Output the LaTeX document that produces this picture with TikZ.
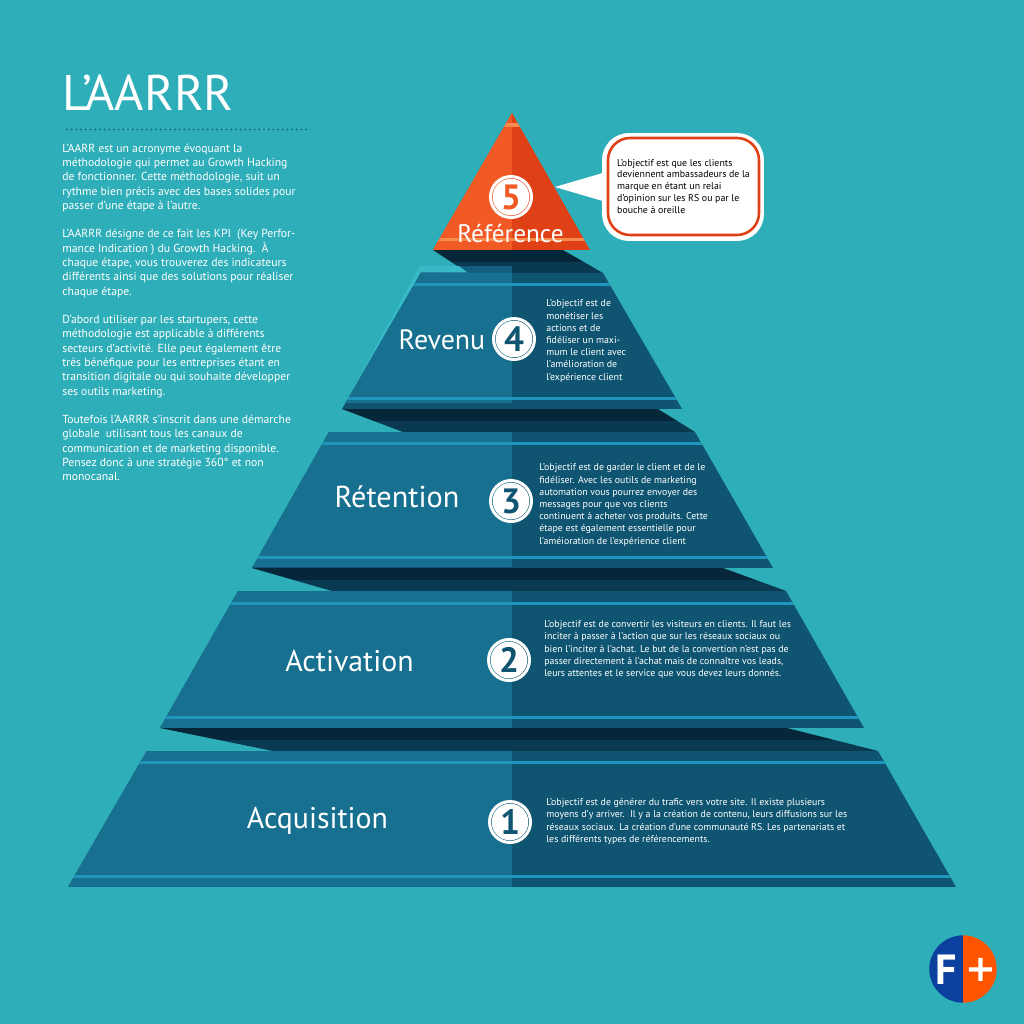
\documentclass[tikz,border=0pt]{standalone}
\usepackage{fontspec}
\setmainfont{PT Sans}
\newfontfamily\plusfont{DejaVu Sans}
\usetikzlibrary{positioning,calc}
\definecolor{bgteal}{HTML}{2EAEB8}
\definecolor{lightteal}{HTML}{38BAC8}
\definecolor{bandleft}{HTML}{17708F}
\definecolor{bandright}{HTML}{0F5571}
\definecolor{bandmid}{HTML}{135E7C}
\definecolor{stripeblue}{HTML}{2096BE}
\definecolor{shadowa}{HTML}{06263A}
\definecolor{shadowb}{HTML}{0A3A52}
\definecolor{orangeleft}{HTML}{F15A24}
\definecolor{orangeright}{HTML}{E04016}
\definecolor{orangestripe}{HTML}{F78B4B}
\definecolor{logoblue}{HTML}{0B409E}
\definecolor{logoorange}{HTML}{FF5500}
\tikzset{
	stage/.style={text=white, inner sep=0pt, font=\fontsize{#1}{20}\selectfont},
	blurb/.style={text=white, inner sep=0pt, align=left, anchor=west, font=\fontsize{5.62}{6.95}\selectfont},
	intro/.style={text=white, inner sep=0pt, align=left, anchor=north west, font=\fontsize{6.65}{8.13}\selectfont},
	badge/.style={circle, fill=white, inner sep=0pt, minimum size=0.732cm, text=bandright, font=\fontsize{20}{22}\bfseries\selectfont},
	ringline/.style={draw=white, line width=1.7pt},
}
\begin{document}
\begin{tikzpicture}[x=0.02cm, y=-0.02cm]
	\fill[bgteal] (0,0) rectangle (1024,1024);
	\useasboundingbox (0,0) rectangle (1024,1024);

	\node[text=white, inner sep=0pt, anchor=base west, font=\fontsize{28.5}{30}\selectfont] (title) at (62,111) {L’AARRR};
	\coordinate (dota) at (67,129.5);
	\coordinate (dotb) at (308,129.5);
	\draw[bandright, line width=1pt, line cap=round, dash pattern=on 0pt off 2.67pt] (dota) -- (dotb);
	\node[intro] (txtintro) at (62,143.5) {L’AARR est un acronyme évoquant la\\méthodologie qui permet au Growth Hacking\\de fonctionner. Cette méthodologie, suit un\\rythme bien précis avec des bases solides pour\\passer d’une étape à l’autre.\\[8.13pt]L’AARRR désigne de ce fait les KPI\ \ (Key Perfor-\\mance Indication ) du Growth Hacking.\ \ À\\chaque étape, vous trouverez des indicateurs\\différents ainsi que des solutions pour réaliser\\chaque étape.\\[8.13pt]D’abord utiliser par les startupers, cette\\méthodologie est applicable à différents\\secteurs d’activité. Elle peut également être\\très bénéfique pour les entreprises étant en\\transition digitale ou qui souhaite développer\\ses outils marketing.\\[8.13pt]Toutefois l’AARRR s’inscrit dans une démarche\\globale\ \ utilisant tous les canaux de\\communication et de marketing disponible.\\Pensez donc à une stratégie 360° et non\\monocanal.};

	\begin{scope}
		\clip (433,250) -- (563,250) -- (603,273) -- (468,273) -- cycle;
		\fill[shadowa] (400,250) rectangle (620,262);
		\fill[shadowb] (400,262) rectangle (620,273);
		\fill[bandmid] (400,266) rectangle (512,273);
	\end{scope}
	\begin{scope}
		\clip (342,409) -- (658,409) -- (695,432) -- (403,432) -- cycle;
		\fill[shadowa] (330,409) rectangle (700,421);
		\fill[shadowb] (330,421) rectangle (700,432);
	\end{scope}
	\begin{scope}
		\clip (252,568) -- (723,568) -- (786,591) -- (332,591) -- cycle;
		\fill[shadowa] (240,568) rectangle (790,580);
		\fill[shadowb] (240,580) rectangle (790,591);
	\end{scope}
	\begin{scope}
		\clip (160,728) -- (787,728) -- (878,751) -- (273,751) -- cycle;
		\fill[shadowa] (150,728) rectangle (880,740);
		\fill[shadowb] (150,740) rectangle (880,751);
	\end{scope}

	\fill[lightteal] (420,266) -- (459,266) -- (468,273) -- (421,272.5) -- (342,409) -- cycle;
	\begin{scope}
		\clip (421,272.5) -- (603,273) -- (682,409) -- (342,409) -- cycle;
		\fill[bandright] (330,270) rectangle (690,409);
		\fill[bandleft] (330,270) rectangle (512,403);
		\fill[stripeblue] (330,282.5) rectangle (690,285.5);
		\fill[stripeblue] (330,396.5) rectangle (690,399.5);
	\end{scope}
	\begin{scope}
		\clip (329,432) -- (695,432) -- (773,568) -- (252,568) -- cycle;
		\fill[bandright] (240,430) rectangle (780,568);
		\fill[bandleft] (240,430) rectangle (512,566.5);
		\fill[stripeblue] (240,441.5) rectangle (780,444.5);
		\fill[stripeblue] (240,555.5) rectangle (780,558.5);
	\end{scope}
	\begin{scope}
		\clip (238,591) -- (786,591) -- (864,728) -- (160,728) -- cycle;
		\fill[bandright] (150,590) rectangle (870,728);
		\fill[bandleft] (150,590) rectangle (512,728);
		\fill[stripeblue] (150,601.5) rectangle (870,604.5);
		\fill[stripeblue] (150,715.5) rectangle (870,718.5);
	\end{scope}
	\begin{scope}
		\clip (146.7,751) -- (878,751) -- (956,887) -- (68,887) -- cycle;
		\fill[bandright] (60,750) rectangle (960,887);
		\fill[bandleft] (60,750) rectangle (512,887);
		\fill[stripeblue] (60,760.5) rectangle (960,763.5);
		\fill[stripeblue] (60,874.5) rectangle (960,877.5);
	\end{scope}
	\begin{scope}
		\clip (512,113) -- (590,250) -- (433,250) -- cycle;
		\fill[orangeright] (430,110) rectangle (595,250);
		\fill[orangeleft] (430,110) rectangle (512,250);
		\fill[orangestripe] (430,123.5) rectangle (595,126.5);
		\fill[orangestripe] (430,237.5) rectangle (595,240.5);
	\end{scope}

	\node[badge, text=orangeleft] (nfive) at (511,197) {5};
	\node[badge] (nfour) at (514,339) {4};
	\node[badge] (nthree) at (511,501) {3};
	\node[badge] (ntwo) at (509,660) {2};
	\node[badge] (none) at (510,822) {1};
	\draw[ringline] (nfive) circle[radius=20.5];
	\draw[ringline] (nfour) circle[radius=20.5];
	\draw[ringline] (nthree) circle[radius=20.5];
	\draw[ringline] (ntwo) circle[radius=20.5];
	\draw[ringline] (none) circle[radius=20.5];

	\node[stage=14.4] (ref) at (510.5,234) {Référence};
	\node[stage=15.9] (rev) at (442,340) {Revenu};
	\node[stage=17.2] (ret) at (397,497) {Rétention};
	\node[stage=17] (act) at (349.5,661) {Activation};
	\node[stage=17] (acq) at (317.5,821) {Acquisition};

	\node[blurb] (txtrev) at (546,341) {L’objectif est de\\monétiser les\\actions et de\\fidéliser un maxi-\\mum le client avec\\l’amélioration de\\l’expérience client};
	\node[blurb] (txtret) at (539,505) {L’objectif est de garder le client et de le\\fidéliser. Avec les outils de marketing\\automation vous pourrez envoyer des\\messages pour que vos clients\\continuent à acheter vos produits. Cette\\étape est également essentielle pour\\l’améioration de l’expérience client};
	\node[blurb] (txtact) at (544,649.5) {L’objectif est de convertir les visiteurs en clients. Il faut les\\inciter à passer à l’action que sur les réseaux sociaux ou\\bien l’inciter à l’achat. Le but de la convertion n’est pas de\\passer directement à l’achat mais de connaître vos leads,\\leurs attentes et le service que vous devez leurs donnés.};
	\node[blurb] (txtacq) at (546,821.5) {L’objectif est de générer du trafic vers votre site. Il existe plusieurs\\moyens d’y arriver.\ \ Il y a la création de contenu, leurs diffusions sur les\\réseaux sociaux. La création d’une communauté RS. Les partenariats et\\les différents types de référencements.};

	\node[fill=white, rounded corners=0.54cm, minimum width=3.24cm, minimum height=2.16cm, inner sep=0pt] (bubble) at (683,187) {};
	\coordinate (tip) at (555,187);
	\fill[white] (tip) -- ($(bubble.west)+(1,-14)$) -- ($(bubble.west)+(1,14)$) -- cycle;
	\node[draw=orangeright, line width=1.45pt, rounded corners=0.44cm, minimum width=3.02cm, minimum height=1.94cm, inner sep=0pt, align=left, font=\fontsize{5.62}{6.8}\selectfont] (bubbletxt) at (683.5,186.5) {L’objectif est que les clients\\deviennent ambassadeurs de la\\marque en étant un relai\\d’opinion sur les RS ou par le\\bouche à oreille};

	\fill[logoblue] (963,935.3) arc[start angle=-90, end angle=-270, radius=33.7];
	\fill[logoorange] (963,935.3) arc[start angle=-90, end angle=90, radius=33.7];
	\node[text=white, inner sep=0pt, font=\fontsize{24}{26}\bfseries\selectfont] (logof) at (946,969.5) {F};
	\node[text=white, inner sep=0pt, font=\plusfont\fontsize{21}{23}\bfseries\selectfont] (logoplus) at (980.5,969.5) {+};
\end{tikzpicture}
\end{document}
